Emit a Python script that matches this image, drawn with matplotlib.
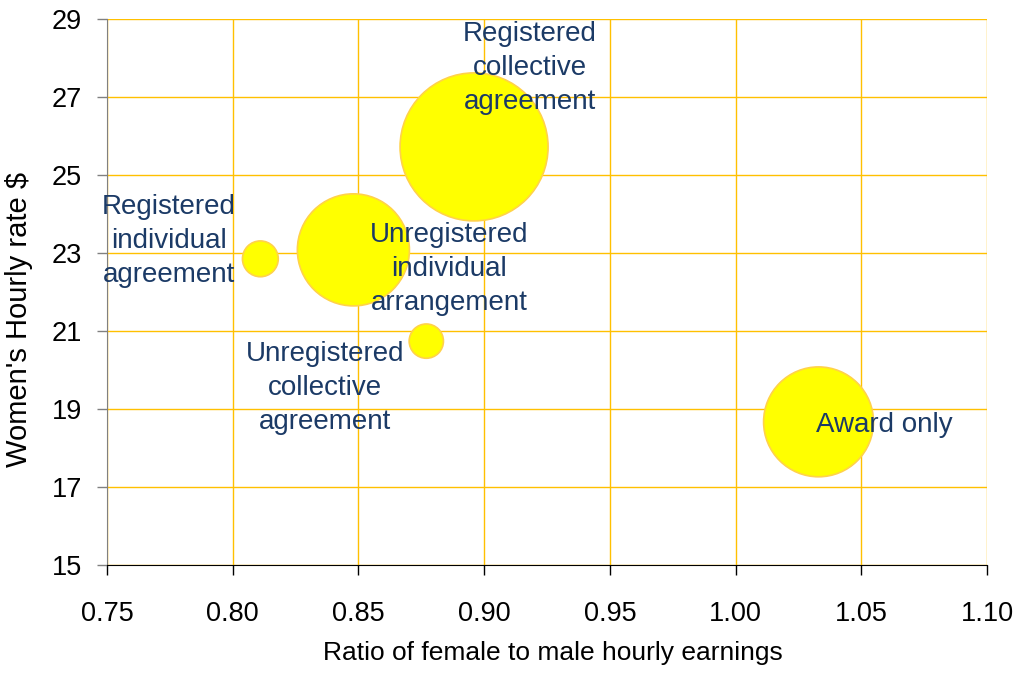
import matplotlib.pyplot as plt

labels = [
    "Registered\ncollective\nagreement",
    "Unregistered\nindividual\narrangement",
    "Registered\nindividual\nagreement",
    "Unregistered\ncollective\nagreement",
    "Award only",
]
ratio = [0.896, 0.848, 0.811, 0.877, 1.033]
womens_rate = [25.72, 23.08, 22.85, 20.74, 18.67]
# bubble size (relative share)
share = [41.0, 23.5, 2.4, 2.2, 22.6]

# label offsets from bubble centre, in points
offsets = [(40, 57), (69, -14), (-66, 13), (-73, -34), (47, -2)]

plt.rcParams["font.family"] = ["Liberation Sans", "DejaVu Sans"]

fig = plt.figure(figsize=(10.17, 6.73), dpi=100)
ax = fig.add_axes([0.1052, 0.1605, 0.8653, 0.8113])

grid_c = "#FFC000"
ax.set_xlim(0.75, 1.10)
ax.set_ylim(15, 29)
ax.set_xticks([0.75 + 0.05 * i for i in range(8)])
ax.set_yticks(range(15, 30, 2))
ax.set_xticklabels([f"{0.75 + 0.05 * i:.2f}" for i in range(8)])
ax.grid(True, color=grid_c, lw=1.0)
ax.set_axisbelow(True)

ax.scatter(ratio, womens_rate, s=[v * 277 for v in share], c="#FFFF00",
           edgecolors="#FFD24A", linewidths=1.2, zorder=3)

for lab, x, y, off in zip(labels, ratio, womens_rate, offsets):
    ax.annotate(lab, (x, y), xytext=off, textcoords="offset points",
                ha="center", va="center", fontsize=20, color="#1B3A66",
                linespacing=1.4, zorder=4)

for s in ["top", "right"]:
    ax.spines[s].set_visible(False)
ax.spines["left"].set_color("#808080")
ax.spines["bottom"].set_color("black")
ax.tick_params(axis="x", direction="out", length=7, width=1, color="black",
               pad=19, labelsize=19.5)
ax.tick_params(axis="y", direction="out", length=7, width=1, color="#808080",
               pad=11, labelsize=19.5)

ax.set_xlabel("Ratio of female to male hourly earnings", fontsize=19)
ax.xaxis.set_label_coords(0.507, -0.139)
ax.set_ylabel("Women's Hourly rate $", fontsize=21)
ax.yaxis.set_label_coords(-0.084, 0.449)

fig.savefig("out.png", dpi=100)
